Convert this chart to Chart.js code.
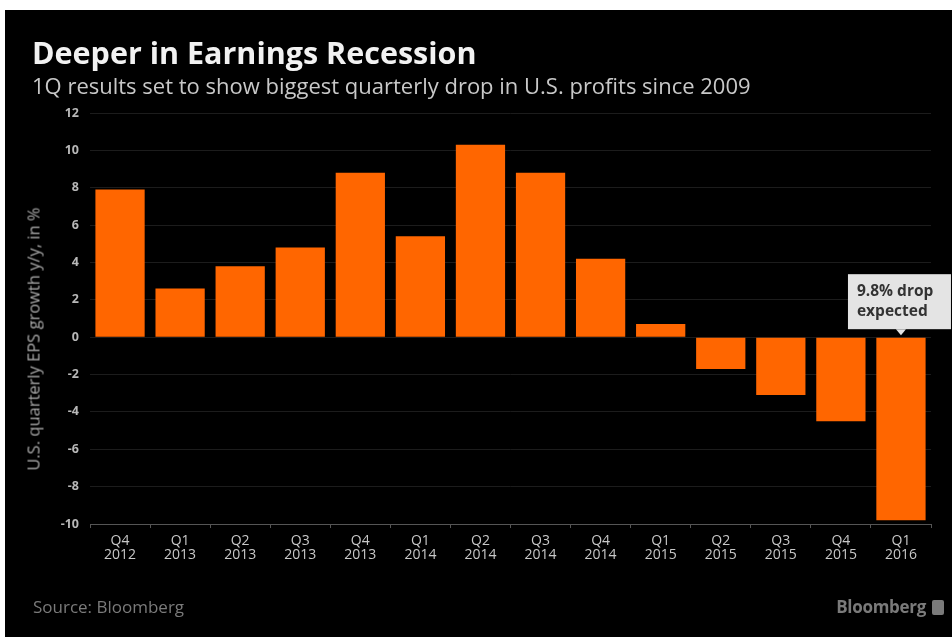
<!DOCTYPE html>
<html>
<head>
<meta charset="utf-8">
<script src="https://cdn.jsdelivr.net/npm/chart.js@4.4.1/dist/chart.umd.min.js"></script>
<style>
  html, body { margin: 0; padding: 0; background: #ffffff; }
  body { width: 952px; height: 637px; position: relative; overflow: hidden; font-family: "Open Sans", "DejaVu Sans", sans-serif; }
  #panel { position: absolute; left: 5px; top: 10px; width: 947px; height: 627px; background: #000; }
  #chart { position: absolute; left: 0; top: 0; }
  #title { position: absolute; left: 32px; top: 31px; color: #f2f2f2; font-weight: 700; font-size: 30.5px; white-space: nowrap; letter-spacing: 0px; }
  #subtitle { position: absolute; left: 32px; top: 70px; color: #c8c8c8; font-size: 22px; white-space: nowrap; letter-spacing: 0px; }
  #ytitle { position: absolute; left: 33px; top: 339px; transform: translate(-50%, -50%) rotate(-90deg); color: #a8a8a8; font-size: 16.5px; white-space: nowrap; }
  #source { position: absolute; left: 33px; top: 595px; color: #7a7a7a; font-size: 17px; white-space: nowrap; }
  #brand { position: absolute; right: 26px; top: 595px; color: #7a7a7a; font-size: 17px; font-weight: 700; white-space: nowrap; letter-spacing: -0.3px; }
  #logo { position: absolute; right: 8px; top: 600px; width: 12px; height: 15px; background: #7a7a7a; border-radius: 2px; }
</style>
</head>
<body>
<div id="panel"></div>
<canvas id="chart" width="952" height="637"></canvas>
<div id="title">Deeper in Earnings Recession</div>
<div id="subtitle">1Q results set to show biggest quarterly drop in U.S. profits since 2009</div>
<div id="ytitle"></div>
<div id="source">Source: Bloomberg</div>
<div id="brand">Bloomberg</div>
<div id="logo"></div>
<script>
// ---- data ----
const quarters = ['Q4','Q1','Q2','Q3','Q4','Q1','Q2','Q3','Q4','Q1','Q2','Q3','Q4','Q1'];
const years    = ['2012','2013','2013','2013','2013','2014','2014','2014','2014','2015','2015','2015','2015','2016'];
const epsGrowth = [7.9, 2.6, 3.8, 4.8, 8.8, 5.4, 10.3, 8.8, 4.2, 0.7, -1.7, -3.1, -4.5, -9.8];
const yTicks = [12, 10, 8, 6, 4, 2, 0, -2, -4, -6, -8, -10];
const yAxisTitle = 'U.S. quarterly EPS growth y/y, in %';
const calloutLines = ['9.8% drop', 'expected'];
const calloutIndex = 13;

document.getElementById('ytitle').textContent = yAxisTitle;
const labels = quarters.map((q, i) => [q, years[i]]);

const calloutPlugin = {
  id: 'callout',
  afterDatasetsDraw(chart) {
    const ctx = chart.ctx;
    const xs = chart.scales.x, ys = chart.scales.y;
    const px = xs.getPixelForValue(calloutIndex);
    const py = ys.getPixelForValue(0);
    const tipY = py - 2;
    const boxBottom = tipY - 6;
    const boxTop = boxBottom - 55;
    const boxLeft = px - 53;
    const boxRight = px + 50;
    ctx.save();
    ctx.fillStyle = '#e4e4e4';
    ctx.fillRect(boxLeft, boxTop, boxRight - boxLeft, boxBottom - boxTop);
    ctx.beginPath();
    ctx.moveTo(px - 5, boxBottom);
    ctx.lineTo(px + 5, boxBottom);
    ctx.lineTo(px, tipY);
    ctx.closePath();
    ctx.fill();
    ctx.fillStyle = '#333333';
    ctx.font = '700 15.5px "Open Sans", "DejaVu Sans", sans-serif';
    ctx.textAlign = 'left';
    ctx.textBaseline = 'middle';
    ctx.fillText(calloutLines[0], boxLeft + 9, boxTop + 17);
    ctx.fillText(calloutLines[1], boxLeft + 9, boxTop + 37);
    ctx.restore();
  }
};

new Chart(document.getElementById('chart'), {
  type: 'bar',
  data: {
    labels: labels,
    datasets: [{
      data: epsGrowth,
      backgroundColor: '#ff6600',
      borderWidth: 0,
      barPercentage: 0.82,
      categoryPercentage: 1.0
    }]
  },
  options: {
    responsive: false,
    animation: false,
    layout: { padding: { left: 22, top: 113, right: 21, bottom: 0 } },
    plugins: { legend: { display: false }, tooltip: { enabled: false } },
    scales: {
      x: {
        afterFit(scale) { scale.height = 113; },
        grid: { display: true, drawOnChartArea: false, drawTicks: true, tickLength: 4, color: '#555555' },
        border: { display: true, color: '#555555', width: 1 },
        ticks: {
          color: '#c8c8c8',
          font: { family: '"Open Sans", "DejaVu Sans", sans-serif', size: 14, lineHeight: 1.0 },
          padding: 6,
          maxRotation: 0,
          autoSkip: false
        }
      },
      y: {
        min: -10,
        max: 12,
        afterFit(scale) { scale.width = 68; },
        afterBuildTicks(scale) { scale.ticks = yTicks.map(v => ({ value: v })); },
        grid: { color: '#1c1c1c', drawTicks: false },
        border: { display: false },
        ticks: {
          color: '#b8b8b8',
          font: { family: '"Open Sans", "DejaVu Sans", sans-serif', size: 12.5, weight: '700' },
          padding: 11
        },
        title: { display: false }
      }
    }
  },
  plugins: [calloutPlugin]
});
</script>
</body>
</html>
